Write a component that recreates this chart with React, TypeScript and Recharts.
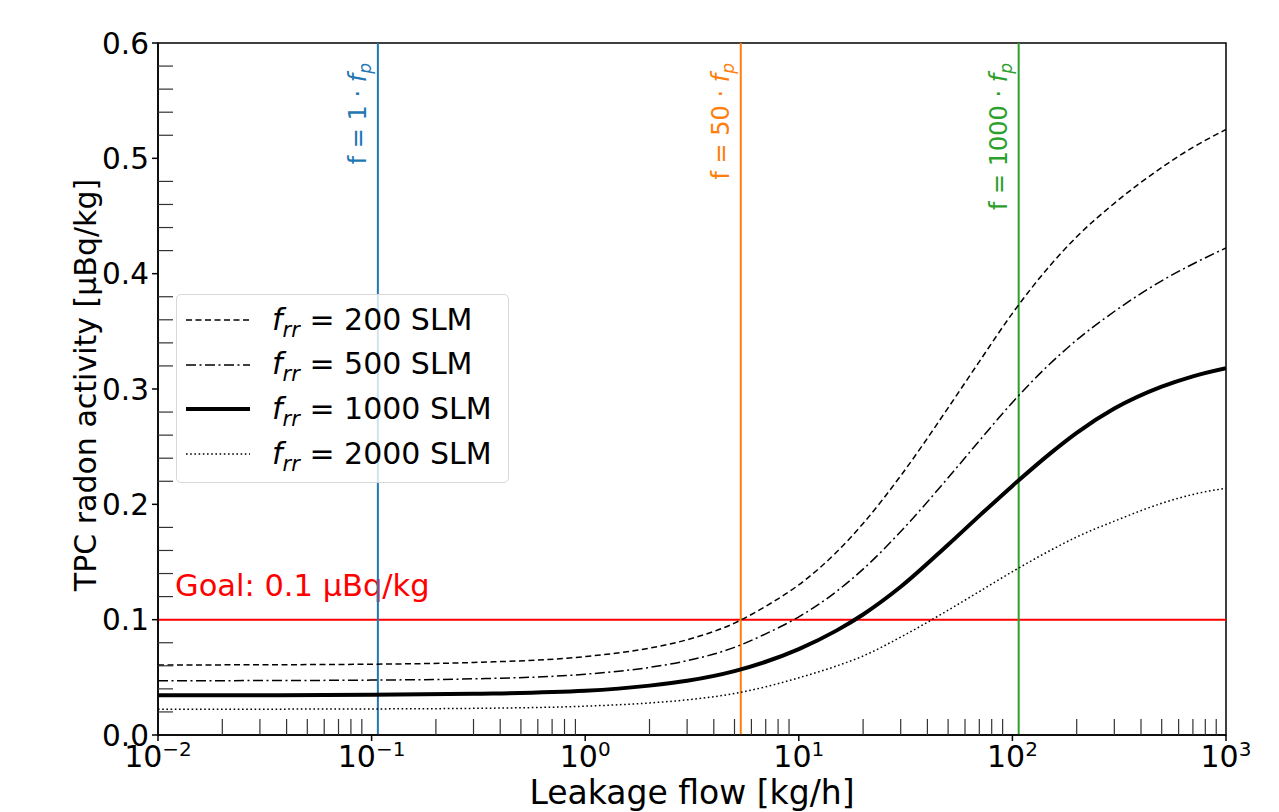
import React from "react";
import {
  LineChart,
  Line,
  XAxis,
  YAxis,
  ReferenceLine,
  ReferenceArea,
  Legend,
} from "recharts";

const FONT = "'DejaVu Sans', sans-serif";

// leakage flow [kg/h] and TPC radon activity [uBq/kg] per recirculation flow
const leakage = [0.01, 0.03, 0.1, 0.3, 1, 2, 3, 5, 7, 10, 15, 20, 30, 50, 70, 100, 150, 200, 300, 500, 700, 1000];
const frr200 = [0.0607, 0.0609, 0.0614, 0.0629, 0.068, 0.0753, 0.0826, 0.097, 0.1116, 0.1302, 0.1584, 0.1834, 0.2248, 0.2836, 0.3238, 0.3656, 0.407, 0.432, 0.461, 0.492, 0.5095, 0.525];
const frr500 = [0.047, 0.0472, 0.0476, 0.0487, 0.0527, 0.0586, 0.0644, 0.076, 0.0877, 0.1024, 0.1244, 0.1438, 0.1764, 0.223, 0.2551, 0.2884, 0.3219, 0.3425, 0.3672, 0.3938, 0.4084, 0.4223];
const frr1000 = [0.0344, 0.0345, 0.0348, 0.0357, 0.0383, 0.0428, 0.047, 0.0554, 0.0635, 0.0745, 0.0905, 0.1045, 0.1285, 0.165, 0.19, 0.216, 0.244, 0.262, 0.283, 0.302, 0.311, 0.318];
const frr2000 = [0.0223, 0.0224, 0.0226, 0.0231, 0.025, 0.0278, 0.0305, 0.036, 0.0418, 0.0496, 0.0598, 0.0685, 0.0849, 0.1082, 0.1244, 0.1416, 0.1599, 0.1717, 0.1854, 0.2009, 0.2086, 0.214];

const xTicks = [0.01, 0.1, 1, 10, 100, 1000];
const xTickExp = ["\u22122", "\u22121", "0", "1", "2", "3"];
const yTicks = [0, 0.1, 0.2, 0.3, 0.4, 0.5, 0.6];
const yTickLabels = ["0.0", "0.1", "0.2", "0.3", "0.4", "0.5", "0.6"];

const fp = 0.107;
const flowFactors = [1, 50, 1000];
const flowColors = ["#1f77b4", "#ff7f0e", "#2ca02c"];
const goal = 0.1;

const series = [
  { key: "s200", label: "200", width: 1.5, dash: "6 3.5" },
  { key: "s500", label: "500", width: 1.5, dash: "10 3.5 2 3.5" },
  { key: "s1000", label: "1000", width: 4, dash: undefined },
  { key: "s2000", label: "2000", width: 1.5, dash: "1.6 2.6" },
];

const data = leakage.map((x, i) => ({
  x,
  s200: frr200[i],
  s500: frr500[i],
  s1000: frr1000[i],
  s2000: frr2000[i],
}));

// minor ticks: 2..9 in each decade, and every 0.02 on y
const xMinor: number[] = [];
for (let d = -2; d < 3; d++) {
  for (let m = 2; m < 10; m++) xMinor.push(m * Math.pow(10, d));
}
const yMinor: number[] = [];
for (let i = 1; i < 30; i++) {
  if (i % 5 !== 0) yMinor.push(Math.round(i * 2) / 100);
}
const xAll = [...xTicks, ...xMinor].sort((a, b) => a - b);
const yAll = [...yTicks, ...yMinor].sort((a, b) => a - b);

const XTick = (props: any) => {
  const { x, y, payload } = props;
  const v = payload.value;
  const idx = xTicks.findIndex((t) => Math.abs(t - v) / t < 1e-6);
  if (idx < 0) {
    return <line x1={x} x2={x} y1={y} y2={y - 16} stroke="#333" strokeWidth={1.2} />;
  }
  return (
    <g>
      <line x1={x} x2={x} y1={y} y2={y + 6} stroke="#000" strokeWidth={1.5} />
      <text x={x} y={y + 32} textAnchor="middle" fontFamily={FONT} fill="#000">
        <tspan fontSize={30}>10</tspan>
        <tspan fontSize={20} dy={-11}>
          {xTickExp[idx]}
        </tspan>
      </text>
    </g>
  );
};

const YTick = (props: any) => {
  const { x, y, payload } = props;
  const idx = yTicks.findIndex((t) => Math.abs(t - payload.value) < 1e-6);
  if (idx < 0) {
    return <line x1={x} x2={x + 15} y1={y} y2={y} stroke="#333" strokeWidth={1.2} />;
  }
  return (
    <g>
      <line x1={x - 6} x2={x} y1={y} y2={y} stroke="#000" strokeWidth={1.5} />
      <text x={x - 9} y={y} dy="0.36em" textAnchor="end" fontSize={29.5} fontFamily={FONT} fill="#000">
        {yTickLabels[idx]}
      </text>
    </g>
  );
};

const YLabel = (props: any) => {
  const vb = props.viewBox;
  const x = 88;
  const y = vb.y + vb.height / 2 - 4;
  return (
    <text x={x} y={y} transform={`rotate(-90 ${x} ${y})`} textAnchor="middle" fontSize={30} fontFamily={FONT} fill="#000">
      TPC radon activity [μBq/kg]
    </text>
  );
};

const XLabel = (props: any) => {
  const vb = props.viewBox;
  return (
    <text x={vb.x + vb.width / 2} y={vb.y + 69} textAnchor="middle" fontSize={33} fontFamily={FONT} fill="#000">
      Leakage flow [kg/h]
    </text>
  );
};

const VLabel = (props: any) => {
  const { viewBox, factor, color } = props;
  const x = viewBox.x - 12;
  const y = viewBox.y + 20;
  return (
    <text x={x} y={y} transform={`rotate(-90 ${x} ${y})`} textAnchor="end" fontSize={24} fontFamily={FONT} fill={color}>
      {`f = ${factor} · `}
      <tspan fontStyle="italic">f</tspan>
      <tspan fontStyle="italic" fontSize={17} dy={5}>
        p
      </tspan>
    </text>
  );
};

const GoalLabel = (props: any) => {
  const { viewBox } = props;
  return (
    <text x={viewBox.x + 17} y={viewBox.y - 24} fontSize={30.5} fontFamily={FONT} fill="#ff0000">
      Goal: 0.1 μBq/kg
    </text>
  );
};

const LegendBox = () => (
  <div
    style={{
      position: "relative",
      boxSizing: "border-box",
      width: 333,
      height: 189,
      border: "1.5px solid #d8d8d8",
      borderRadius: 5,
      background: "rgba(255,255,255,0.8)",
      fontFamily: FONT,
      fontSize: 30,
      color: "#000",
    }}
  >
    {series.map((s, i) => (
      <div
        key={s.key}
        style={{
          position: "absolute",
          left: 0,
          top: 24 + i * 44.7 - 22,
          height: 44,
          display: "flex",
          alignItems: "center",
          whiteSpace: "nowrap",
        }}
      >
        <svg width={95} height={44} style={{ display: "block" }}>
          <line x1={9} x2={73} y1={23} y2={23} stroke="#000" strokeWidth={s.width} strokeDasharray={s.dash} />
        </svg>
        <span>
          <i>f</i>
          <i style={{ fontSize: 21, position: "relative", top: 7 }}>rr</i>
          {` = ${s.label} SLM`}
        </span>
      </div>
    ))}
  </div>
);

export default function App() {
  return (
    <LineChart
      width={1271}
      height={804}
      data={data}
      margin={{ top: 35, right: 53, bottom: 0, left: 0 }}
      style={{ fontFamily: FONT }}
    >
      <XAxis
        dataKey="x"
        type="number"
        scale="log"
        domain={[0.01, 1000]}
        allowDataOverflow
        ticks={xAll}
        interval={0}
        tickSize={0}
        tickMargin={0}
        tick={<XTick />}
        height={77}
        axisLine={{ stroke: "#000", strokeWidth: 1.5 }}
        label={<XLabel />}
      />
      <YAxis
        type="number"
        domain={[0, 0.6]}
        allowDataOverflow
        ticks={yAll}
        interval={0}
        tickSize={0}
        tickMargin={0}
        tick={<YTick />}
        width={150}
        axisLine={{ stroke: "#000", strokeWidth: 1.5 }}
        label={<YLabel />}
      />
      <ReferenceLine y={goal} stroke="#ff0000" strokeWidth={2} label={<GoalLabel />} />
      {flowFactors.map((f, i) => (
        <ReferenceLine
          key={f}
          x={fp * f}
          stroke={flowColors[i]}
          strokeWidth={2}
          label={<VLabel factor={f} color={flowColors[i]} />}
        />
      ))}
      {series.map((s) => (
        <Line
          key={s.key}
          dataKey={s.key}
          type="monotone"
          stroke="#000"
          strokeWidth={s.width}
          strokeDasharray={s.dash}
          dot={false}
          activeDot={false}
          isAnimationActive={false}
        />
      ))}
      <ReferenceArea x1={0.01} x2={1000} y1={0} y2={0.6} fill="none" stroke="#000" strokeWidth={1.5} />
      <Legend
        layout="vertical"
        align="center"
        verticalAlign="middle"
        content={<LegendBox />}
        wrapperStyle={{ left: 168, top: 286, width: 333, height: 189 }}
      />
    </LineChart>
  );
}
